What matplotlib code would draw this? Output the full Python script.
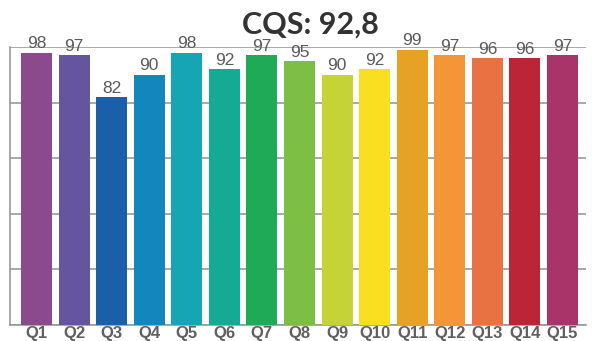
import matplotlib
matplotlib.use("Agg")
import matplotlib.pyplot as plt

categories = ["Q1", "Q2", "Q3", "Q4", "Q5", "Q6", "Q7", "Q8", "Q9", "Q10", "Q11", "Q12", "Q13", "Q14", "Q15"]
values = [98, 97, 82, 90, 98, 92, 97, 95, 90, 92, 99, 97, 96, 96, 97]
colors = ["#8B4A8B", "#64559E", "#1A5FA8", "#1286BD", "#16A5B3", "#15AA94", "#1FAA58",
          "#7DBF44", "#C5D336", "#F8E020", "#E5A224", "#F49638", "#E97243", "#BB2535", "#A8346A"]
title = "CQS: 92,8"

fig = plt.figure(figsize=(5.92, 3.41), dpi=100)
ax = fig.add_axes([10/592, 1-325/341, 576/592, (325-47)/341])
x = range(len(categories))
ax.bar(x, values, width=0.825, color=colors, zorder=3)
for xi, v in zip(x, values):
    ax.text(xi, v + 0.5, str(v), ha="center", va="bottom", fontsize=12.5,
            family="Liberation Sans", color="#5a5a5a", zorder=4)
ax.set_xlim(-0.705, len(categories) - 0.375)
ax.set_ylim(0, 100)
ax.set_yticks([0, 20, 40, 60, 80, 100])
ax.yaxis.grid(True, color="#999999", linewidth=1.2, zorder=0)
ax.tick_params(axis="y", left=False, labelleft=False)
ax.set_xticks(list(x))
ax.set_xticklabels(categories, fontsize=12, fontweight="bold", family="Liberation Sans", color="#606060")
ax.tick_params(axis="x", length=0, pad=0.5)
for s in ["top", "right"]:
    ax.spines[s].set_visible(False)
ax.spines["left"].set_color("#999999")
ax.spines["bottom"].set_color("#999999")
ax.spines["left"].set_linewidth(1.2)
ax.spines["bottom"].set_linewidth(1.2)
fig.text(310/592, 1-24.5/341, title, ha="center", va="center", fontsize=22,
         family="Lato", color="#333333", fontweight="bold")
fig.savefig("out.png", dpi=100)
